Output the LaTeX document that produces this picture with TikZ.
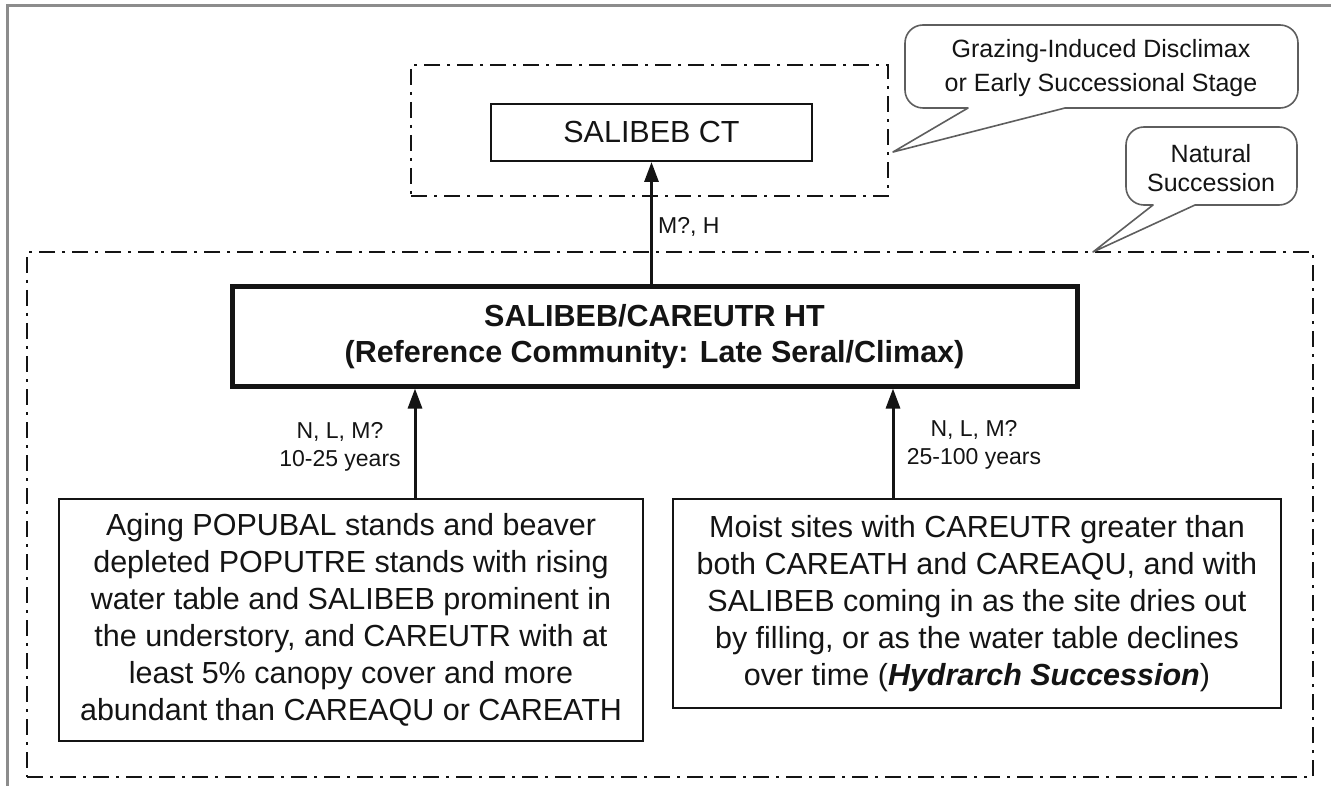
\documentclass[tikz,border=0pt]{standalone}
\usepackage{fontspec}
\setmainfont{Liberation Sans}
\usetikzlibrary{arrows.meta,calc}
\definecolor{ink}{HTML}{141414}
\definecolor{framegray}{HTML}{8C8C8C}
\definecolor{bubble}{HTML}{5E5E5E}
\begin{document}
\begin{tikzpicture}[x=1pt,y=-1pt,
  box/.style={draw=ink, line width=2, inner sep=0, align=center, text=ink,
    font=\fontsize{30.5}{37}\selectfont},
  htbox/.style={box, line width=5, font=\fontsize{30.5}{36}\selectfont\bfseries},
  zone/.style={draw=ink, line width=2.7, dash pattern=on 16pt off 7pt on 3pt off 7pt, inner sep=0},
  lbl/.style={text=ink, align=center, inner sep=0, font=\fontsize{23}{28}\selectfont},
  arr/.style={draw=ink, line width=3, -{Triangle[length=20pt,width=14pt]}},
  bubbleline/.style={draw=bubble, line width=1.6, fill=white, line cap=round, line join=round},
  bubbletext/.style={text=ink, align=center, inner sep=0}]
\useasboundingbox (0,0) rectangle (1331,786);

% page frame
\draw[framegray, line width=3] (7,786) -- (7,6) -- (1331,6);

% dash-dot zones
\node[zone, minimum width=477, minimum height=131] (ctzone) at (649.5,130.5) {};
\node[zone, minimum width=1286, minimum height=525] (htzone) at (670,514.5) {};

% community boxes
\node[box, minimum width=321, minimum height=57] (ct) at (651.5,132.5) {SALIBEB CT};
\node[htbox, minimum width=845, minimum height=99] (ht) at (654.5,336.5)
  {SALIBEB/CAREUTR HT\\(Reference Community: Late Seral/Climax)};
\node[box, minimum width=584, minimum height=242] (lbox) at (351,620)
  {Aging POPUBAL stands and beaver\\
   depleted POPUTRE stands with rising\\
   water table and SALIBEB prominent in\\
   the understory, and CAREUTR with at\\
   least 5\% canopy cover and more\\
   abundant than CAREAQU or CAREATH};
\node[box, minimum width=608, minimum height=209] (rbox) at (977,603.5)
  {Moist sites with CAREUTR greater than\\
   both CAREATH and CAREAQU, and with\\
   SALIBEB coming in as the site dries out\\
   by filling, or as the water table declines\\
   over time (\textbf{\textit{Hydrarch Succession}})};

% transitions
\draw[arr] (ht.north -| ct.south) -- (ct.south);
\draw[arr] ([xshift=64pt]lbox.north) -- ([xshift=64pt]lbox.north |- ht.south);
\draw[arr] ([xshift=-84pt]rbox.north) -- ([xshift=-84pt]rbox.north |- ht.south);

\node[lbl, anchor=west] (lct) at (658,227) {M?, H};
\node[lbl] (lleft) at (340,447) {N, L, M?\\10-25 years};
\node[lbl] (lright) at (974,445) {N, L, M?\\25-100 years};

% callout bubbles: pointer drawn sharp, body corners rounded
\coordinate (gtip) at (893,152);
\coordinate (ntip) at (1093,252);
\draw[bubbleline] (968,108) -- (gtip) -- (1065,108)
  [rounded corners=18pt] -- (1298,108) -- (1298,25) -- (905,25) -- (905,108) -- (968,108);
\node[bubbletext, font=\fontsize{25}{34}\selectfont] (gtext) at (1101,68)
  {Grazing-Induced Disclimax\\or Early Successional Stage};

\draw[bubbleline] (1153,205) -- (ntip) -- (1195,205)
  [rounded corners=18pt] -- (1297,205) -- (1297,127) -- (1126,127) -- (1126,205) -- (1153,205);
\node[bubbletext, font=\fontsize{25}{29}\selectfont] (ntext) at (1211,168)
  {Natural\\Succession};
\end{tikzpicture}
\end{document}
